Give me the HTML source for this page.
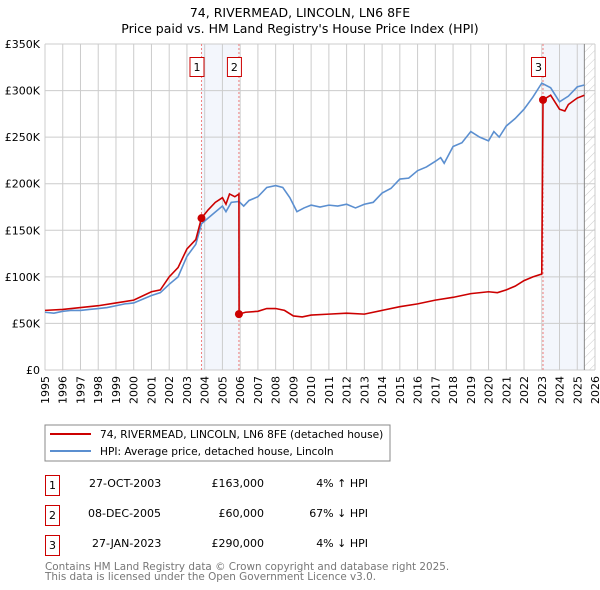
<!DOCTYPE html>
<html><head><meta charset="utf-8"><style>
body{margin:0;background:#fff;font-family:"Liberation Sans","DejaVu Sans",sans-serif;}
svg{display:block}
</style></head><body>
<svg width="600" height="590" xmlns="http://www.w3.org/2000/svg" font-family="DejaVu Sans, Liberation Sans, sans-serif">
<defs><pattern id="hatch" width="6" height="6" patternUnits="userSpaceOnUse" patternTransform="rotate(45)"><line x1="0" y1="0" x2="0" y2="6" stroke="#ccc" stroke-width="1"/></pattern></defs>
<text x="300" y="17" text-anchor="middle" font-size="12.5">74, RIVERMEAD, LINCOLN, LN6 8FE</text>
<text x="300" y="33" text-anchor="middle" font-size="12.5">Price paid vs. HM Land Registry's House Price Index (HPI)</text>
<g id="plot"></g>
<rect x="45" y="425" width="345" height="36" fill="#fff" stroke="#888"/>
<line x1="50" y1="434" x2="91" y2="434" stroke="#cc0000" stroke-width="2"/>
<text x="100" y="438" font-size="10.6">74, RIVERMEAD, LINCOLN, LN6 8FE (detached house)</text>
<line x1="50" y1="451" x2="91" y2="451" stroke="#5b8fd0" stroke-width="2"/>
<text x="100" y="455" font-size="10.6">HPI: Average price, detached house, Lincoln</text>
<g font-size="11">
<rect x="45.5" y="475.5" width="14" height="20" fill="#fff" stroke="#cc0000"/><text x="52.5" y="489" text-anchor="middle">1</text>
<text x="89" y="487">27-OCT-2003</text><text x="264" y="487" text-anchor="end">£163,000</text><text x="368" y="487" text-anchor="end">4% ↑ HPI</text>
<rect x="45.5" y="505.5" width="14" height="20" fill="#fff" stroke="#cc0000"/><text x="52.5" y="519" text-anchor="middle">2</text>
<text x="88" y="517">08-DEC-2005</text><text x="264" y="517" text-anchor="end">£60,000</text><text x="368" y="517" text-anchor="end">67% ↓ HPI</text>
<rect x="45.5" y="535.5" width="14" height="20" fill="#fff" stroke="#cc0000"/><text x="52.5" y="549" text-anchor="middle">3</text>
<text x="92" y="547">27-JAN-2023</text><text x="264" y="547" text-anchor="end">£290,000</text><text x="368" y="547" text-anchor="end">4% ↓ HPI</text>
</g>
<text x="45" y="570" font-size="10.4" fill="#777">Contains HM Land Registry data © Crown copyright and database right 2025.</text>
<text x="45" y="580" font-size="10.4" fill="#777">This data is licensed under the Open Government Licence v3.0.</text>
</svg>
<script>
const hpiYears=[1995,1995.5,1996,1996.5,1997,1997.5,1998,1998.5,1999,1999.5,2000,2000.5,2001,2001.5,2002,2002.5,2003,2003.5,2003.82,2004,2004.5,2005,2005.2,2005.5,2005.93,2006.2,2006.5,2007,2007.5,2008,2008.4,2008.8,2009.2,2009.6,2010,2010.5,2011,2011.5,2012,2012.5,2013,2013.5,2014,2014.5,2015,2015.5,2016,2016.5,2017,2017.3,2017.5,2018,2018.5,2019,2019.5,2020,2020.3,2020.6,2021,2021.5,2022,2022.5,2023,2023.5,2024,2024.5,2025,2025.4];
const hpiValues=[62,61,63,64,64,65,66,67,69,71,72,76,80,83,92,100,122,135,157,160,168,176,170,180,181,176,182,186,196,198,196,185,170,174,177,175,177,176,178,174,178,180,190,195,205,206,214,218,224,228,222,240,244,256,250,246,256,250,262,270,280,293,308,303,288,294,304,306];
const propYears=[1995,1996,1997,1998,1999,2000,2001,2001.5,2002,2002.5,2003,2003.5,2003.82,2004.2,2004.6,2005,2005.2,2005.4,2005.7,2005.93,2005.94,2006.3,2007,2007.5,2008,2008.5,2009,2009.5,2010,2011,2012,2013,2014,2015,2016,2017,2018,2019,2020,2020.5,2021,2021.5,2022,2022.5,2023.0,2023.07,2023.5,2024,2024.3,2024.5,2025,2025.4];
const propValues=[64,65,67,69,72,75,84,86,100,110,130,140,163,172,180,185,178,189,186,189,60,62,63,66,66,64,58,57,59,60,61,60,64,68,71,75,78,82,84,83,86,90,96,100,103,290,295,280,278,285,292,295];
const saleYears=[2003.82,2005.93,2023.07];
const saleValues=[163,60,290];
const saleLabels=["1","2","3"];
const yTicks=[0,50,100,150,200,250,300,350];
const yTickLabels=["£0","£50K","£100K","£150K","£200K","£250K","£300K","£350K"];
const xTicks=[1995,1996,1997,1998,1999,2000,2001,2002,2003,2004,2005,2006,2007,2008,2009,2010,2011,2012,2013,2014,2015,2016,2017,2018,2019,2020,2021,2022,2023,2024,2025,2026];
const dataEnd=2025.4;

const X0=45,X1=595,Y0=370,Y1=44;
const xs=y=>X0+(y-1995)/(2026-1995)*(X1-X0);
const ys=v=>Y0-v/350*(Y0-Y1);
const NS="http://www.w3.org/2000/svg";
const g=document.getElementById('plot');
function mk(t,a){const e=document.createElementNS(NS,t);for(const k in a)e.setAttribute(k,a[k]);g.appendChild(e);return e;}
let e=mk('rect',{x:xs(saleYears[0]),y:Y1,width:xs(saleYears[1])-xs(saleYears[0]),height:Y0-Y1,fill:'#f3f6fc'});


e=mk('rect',{x:xs(saleYears[2]),y:Y1,width:xs(dataEnd)-xs(saleYears[2]),height:Y0-Y1,fill:'#f3f6fc'});


e=mk('rect',{x:xs(dataEnd),y:Y1,width:X1-xs(dataEnd),height:Y0-Y1,fill:'url(#hatch)'});


xTicks.forEach(t=>{
  e=mk('line',{x1:xs(t),x2:xs(t),y1:Y1,y2:Y0,stroke:'#ccc','stroke-width':1});
  
  
  e=mk('text',{x:0,y:0,'font-size':11,'text-anchor':'end',transform:`translate(${xs(t)+4},${Y0+6}) rotate(-90)`});
  e.textContent=t;
  
  
});
yTicks.forEach((t,i)=>{
  e=mk('line',{x1:X0,x2:X1,y1:ys(t),y2:ys(t),stroke:'#ccc','stroke-width':1});
  
  
  e=mk('text',{x:X0-5,y:ys(t)+4,'font-size':11,'text-anchor':'end'});
  e.textContent=yTickLabels[i];
  
  
});
e=mk('line',{x1:xs(dataEnd),x2:xs(dataEnd),y1:Y1,y2:Y0,stroke:'#888','stroke-width':1});


saleYears.forEach((s,i)=>{
  e=mk('line',{x1:xs(s),x2:xs(s),y1:Y1,y2:Y0,stroke:'#f08080','stroke-width':1,'stroke-dasharray':'2,2'});
  
  
  e=mk('rect',{x:xs(s)-11.5,y:57.5,width:14,height:19,fill:'#fff',stroke:'#cc0000'});
  
  
  e=mk('text',{x:xs(s)-4.5,y:71,'font-size':11,'text-anchor':'middle'});
  e.textContent=saleLabels[i];
  
  
});
e=mk('polyline',{points:hpiYears.map((y,i)=>xs(y)+','+ys(hpiValues[i])).join(' '),fill:'none',stroke:'#5b8fd0','stroke-width':1.6});


e=mk('polyline',{points:propYears.map((y,i)=>xs(y)+','+ys(propValues[i])).join(' '),fill:'none',stroke:'#cc0000','stroke-width':1.6});


saleYears.forEach((s,i)=>{
  e=mk('circle',{cx:xs(s),cy:ys(saleValues[i]),r:4,fill:'#cc0000'});
  
  
});
</script>
</body></html>
